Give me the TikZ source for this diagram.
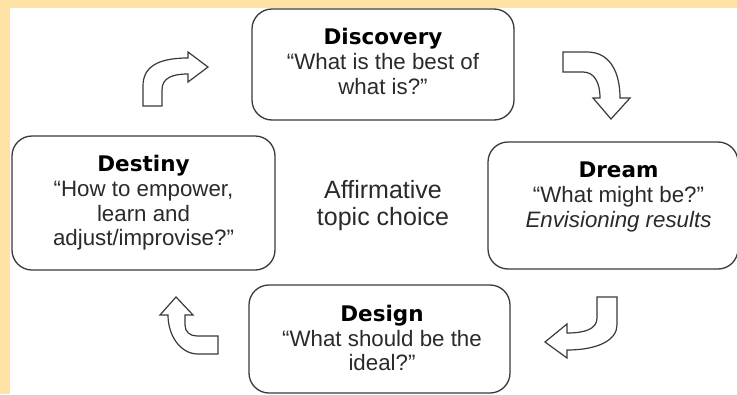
\documentclass[tikz,border=0pt]{standalone}
\usepackage{fontspec}
\setmainfont{Liberation Sans}
\newfontfamily\headfont{DejaVu Sans}[Scale=1]
\definecolor{pagebg}{HTML}{FFE3A6}
\definecolor{ink}{HTML}{2A2A2A}
\definecolor{stroke}{HTML}{3A3A3A}
\tikzset{
  box/.style={draw=stroke,line width=1.3pt,rounded corners=20pt,fill=white,inner sep=0pt},
  lines/.style={align=center,text=ink,font=\fontsize{22.3}{24.6}\selectfont,inner sep=0pt},
  centre/.style={align=center,text=ink,font=\fontsize{25}{27}\selectfont,inner sep=0pt},
  blockarrow/.style={draw=stroke,line width=1.2pt,fill=white,line join=miter}
}
\newcommand{\hd}[1]{{\headfont\bfseries\fontsize{21.5}{24.6}\selectfont\textcolor{black}{#1}}}
\begin{document}
\begin{tikzpicture}[x=1pt,y=-1pt]
\useasboundingbox (0,0) rectangle (737,394);
\clip (0,0) rectangle (737,394);
\fill[pagebg] (0,0) rectangle (737,394);
\fill[white] (10,8) rectangle (737,394);
\node[box,minimum width=262pt,minimum height=111pt] (discovery) at (383,64.5) {};
\node[box,minimum width=263pt,minimum height=134pt] (destiny) at (143.5,203) {};
\node[box,minimum width=250pt,minimum height=127pt] (dream) at (613,205.5) {};
\node[box,minimum width=261pt,minimum height=108pt] (design) at (379.5,339) {};
\node[lines] (t1) at (383,61.5) {\hd{Discovery}\\“What is the best of\\what is?”};
\node[lines] (t2) at (143.5,203) {\hd{Destiny}\\“How to empower,\\learn and\\adjust/improvise?”};
\node[lines] (t3) at (618.5,197) {\hd{Dream}\\“What might be?”\\\textit{Envisioning results}};
\node[lines] (t4) at (382,338) {\hd{Design}\\“What should be the\\ideal?”};
\node[centre] (t5) at (383,205.5) {Affirmative\\topic choice};
% upper-left bent arrow
\draw[blockarrow] (143,106) -- (143,86) .. controls (143,68) and (156,58) .. (188,58) -- (188,52) -- (208,67) -- (188,82) -- (188,74) .. controls (172,74) and (162,78) .. (162,90) -- (162,106) -- cycle;
% upper-right bent arrow
\draw[blockarrow] (563,52) -- (587,52) .. controls (610,52) and (620,72) .. (620,98) -- (630,98) -- (611,119) -- (593,98) -- (600,98) .. controls (600,82) and (594,72) .. (583,72) -- (563,72) -- cycle;
% lower-right bent arrow
\draw[blockarrow] (597,297) -- (617,297) -- (617,325) .. controls (617,340) and (598,350) .. (567,350) -- (567,358) -- (545,342) -- (567,324) -- (567,333) .. controls (585,333) and (597,329) .. (597,318) -- cycle;
% lower-left bent arrow
\draw[blockarrow] (218,336) -- (218,354) -- (198,354) .. controls (180,354) and (168,335) .. (168,315) -- (160,315) -- (176,297) -- (193,315) -- (185,315) -- (185,325) .. controls (185,332) and (190,336) .. (197,336) -- cycle;
\end{tikzpicture}
\end{document}
